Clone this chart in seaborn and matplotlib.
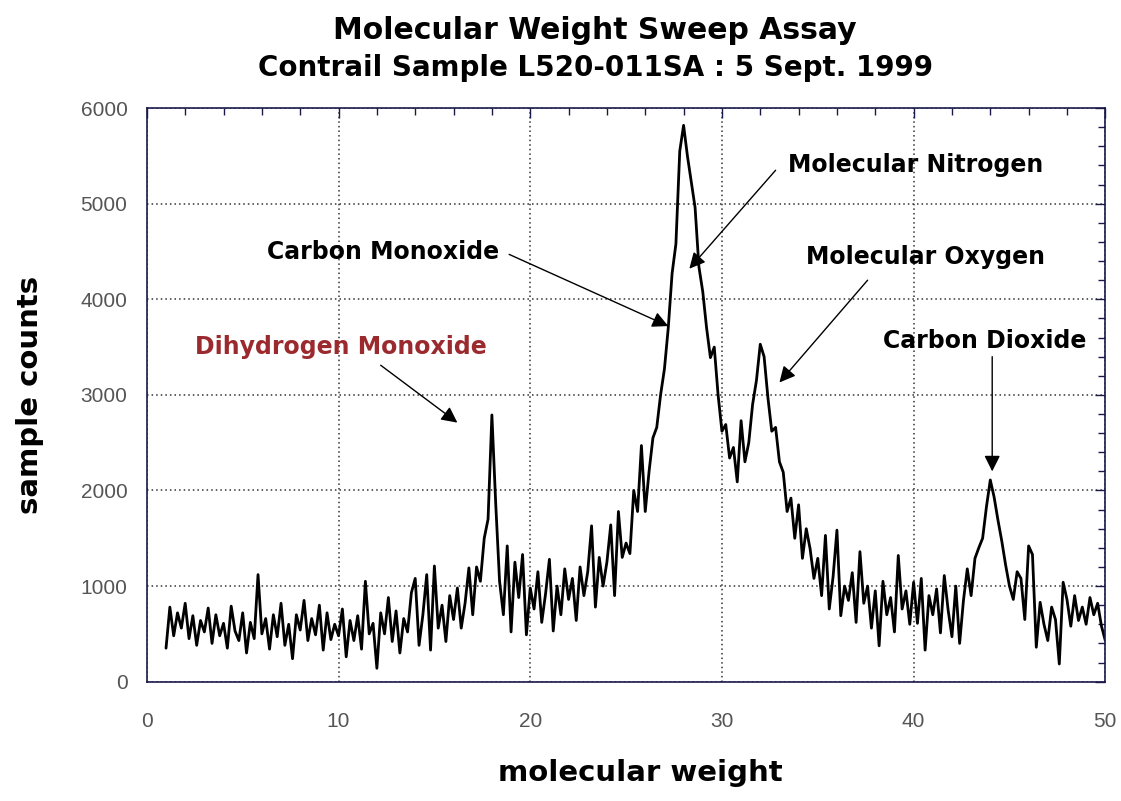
import matplotlib
matplotlib.use("Agg")
import matplotlib.pyplot as plt
import numpy as np
import pandas as pd
import seaborn as sns

# sample counts, every 0.2 of molecular weight from 1 to 50
counts = [
    350, 780, 480, 720, 560,      # 1
    820, 450, 690, 380, 640,      # 2
    520, 770, 400, 700, 480,      # 3
    610, 350, 790, 530, 430,      # 4
    720, 300, 620, 450, 1120,     # 5
    500, 660, 340, 700, 470,      # 6
    820, 380, 600, 240, 700,      # 7
    540, 850, 430, 660, 490,      # 8
    800, 330, 720, 440, 600,      # 9
    480, 760, 260, 640, 430,      # 10
    690, 340, 1050, 500, 610,     # 11
    140, 720, 500, 880, 420,      # 12
    740, 300, 660, 520, 930,      # 13
    1080, 380, 700, 1120, 330,    # 14
    1210, 560, 800, 420, 900,     # 15
    650, 980, 560, 820, 1190,     # 16
    700, 1200, 1050, 1500, 1700,  # 17
    2790, 1860, 1050, 700, 1420,  # 18
    520, 1250, 880, 1330, 490,    # 19
    980, 760, 1150, 620, 920,     # 20
    1280, 530, 1000, 700, 1180,   # 21
    860, 1080, 640, 1200, 900,    # 22
    1150, 1630, 780, 1300, 1000,  # 23
    1250, 1640, 900, 1780, 1300,  # 24
    1450, 1340, 2000, 1780, 2470, # 25
    1780, 2200, 2550, 2660, 3000, # 26
    3270, 3700, 4270, 4580, 5550, # 27
    5820, 5500, 5230, 4960, 4340, # 28
    4080, 3700, 3390, 3500, 3000, # 29
    2620, 2690, 2340, 2450, 2090, # 30
    2730, 2300, 2500, 2900, 3150, # 31
    3530, 3400, 2970, 2620, 2660, # 32
    2300, 2190, 1780, 1920, 1500, # 33
    1850, 1290, 1600, 1390, 1080, # 34
    1290, 900, 1530, 760, 1100,   # 35
    1585, 690, 1000, 850, 1140,   # 36
    620, 1360, 820, 1000, 560,    # 37
    950, 375, 1050, 700, 880,     # 38
    520, 1320, 760, 950, 600,     # 39
    1040, 610, 1080, 330, 900,    # 40
    700, 970, 510, 1110, 750,     # 41
    470, 1000, 400, 850, 1180,    # 42
    900, 1290, 1400, 1500, 1830,  # 43
    2110, 1930, 1690, 1470, 1220, # 44
    1000, 860, 1150, 1080, 650,   # 45
    1420, 1330, 360, 830, 600,    # 46
    430, 780, 650, 185, 1040,     # 47
    860, 580, 900, 640, 780,      # 48
    600, 880, 700, 820, 580,      # 49
    430,                          # 50
]
weights = np.linspace(1, 50, len(counts))

labels = ["Carbon Monoxide", "Molecular Nitrogen", "Molecular Oxygen",
          "Carbon Dioxide", "Dihydrogen Monoxide"]
label_xy = [(12.3, 4490), (40.1, 5400), (40.6, 4440), (43.7, 3560), (10.1, 3500)]
arrow_from = [(18.9, 4470), (32.8, 5350), (37.6, 4200), (44.1, 3400), (12.2, 3310)]
arrow_to = [(27.2, 3720), (28.3, 4320), (33.0, 3130), (44.1, 2200), (16.2, 2710)]
label_colors = ["black", "black", "black", "black", "#9b2a2e"]

df = pd.DataFrame({"molecular weight": weights, "sample counts": counts})

sns.set_style("white")
plt.rcParams["font.family"] = ["DejaVu Sans"]
plt.rcParams["text.color"] = "black"
plt.rcParams["axes.labelcolor"] = "black"

fig = plt.figure(figsize=(11.21, 8.01), dpi=100)
ax = fig.add_axes([0.131, 0.149, 0.855, 0.716])

sns.lineplot(data=df, x="molecular weight", y="sample counts", ax=ax,
             color="black", linewidth=2.0)

ax.set_xlim(0, 50)
ax.set_ylim(0, 6000)
ax.set_xticks(range(0, 51, 10))
ax.set_yticks(range(0, 6001, 1000))
ax.set_xticks(range(0, 51, 2), minor=True)
ax.set_yticks(range(0, 6001, 200), minor=True)
ax.grid(True, which="major", linestyle=(0, (1, 2)), color="#333333", linewidth=1.1)
ax.tick_params(which="both", direction="in", top=True, right=True,
               color="#1a1a4a", width=1)
ax.tick_params(which="major", length=7, labelsize=15, labelcolor="#555555")
ax.tick_params(which="minor", length=5)
ax.tick_params(axis="x", which="major", pad=22)
ax.tick_params(axis="y", which="major", pad=14)
for lab in ax.get_xticklabels() + ax.get_yticklabels():
    lab.set_family(["Liberation Sans Narrow", "Liberation Sans"])
for s in ax.spines.values():
    s.set_color("#1a1a4a")
    s.set_linewidth(1.2)

ax.set_xlabel("molecular weight", fontsize=21, fontweight="bold")
ax.set_ylabel("sample counts", fontsize=21, fontweight="bold", labelpad=26)
ax.xaxis.set_label_coords(0.515, -0.135)
fig.text(0.531, 0.9625, "Molecular Weight Sweep Assay", ha="center", va="center",
         fontsize=21.5, fontweight="bold")
fig.text(0.531, 0.915, "Contrail Sample L520-011SA : 5 Sept. 1999", ha="center",
         va="center", fontsize=20, fontweight="bold")

for name, pos, start, tip, col in zip(labels, label_xy, arrow_from, arrow_to, label_colors):
    ax.text(pos[0], pos[1], name, ha="center", va="center", fontsize=17,
            fontweight="bold", color=col)
    ax.annotate("", xy=tip, xytext=start,
                arrowprops=dict(arrowstyle="-|>", color="black", lw=1,
                                mutation_scale=24, shrinkA=0, shrinkB=0))

fig.savefig("out.png", dpi=100)
